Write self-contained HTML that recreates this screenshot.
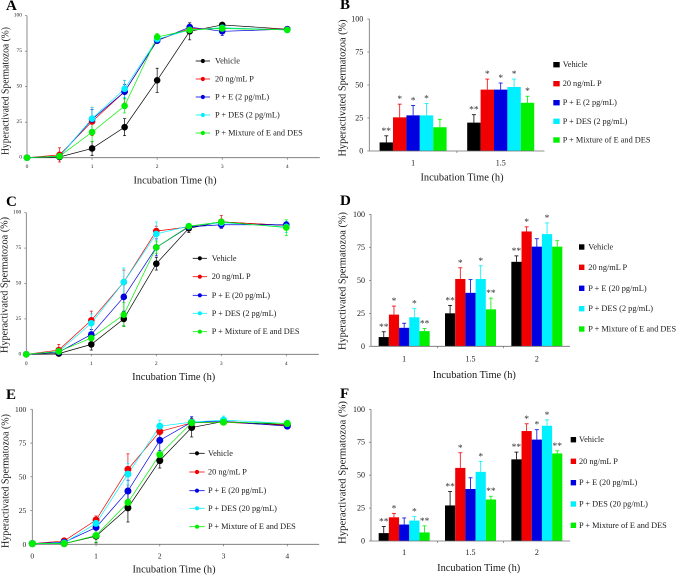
<!DOCTYPE html>
<html lang="en">
<head>
<meta charset="utf-8">
<title>Hyperactivated Spermatozoa Charts</title>
<style>
html,body{margin:0;padding:0;background:#fff;width:677px;height:576px;overflow:hidden}
svg{display:block;filter:blur(.3px)}
text{font-family:"Liberation Serif",serif;fill:#1a1a1a}
</style>
</head>
<body>
<svg id="fig" xmlns="http://www.w3.org/2000/svg" width="677" height="576" viewBox="0 0 677 576"></svg>
<script>
// ---------- shared data ----------
const times = [0, 0.5, 1, 1.5, 2, 2.5, 3, 4];
const xTickValues = [0, 1, 2, 3, 4];
const yTickValues = [0, 25, 50, 75, 100];
const seriesColors = ['#000000', '#f00000', '#0000e0', '#00f0ff', '#00f000'];
const seriesKeys = ['vehicle', 'p', 'p-e', 'p-des', 'p-mix'];

// ---------- legends ----------
const legendA = ['Vehicle', '20 ng/mL P', 'P + E (2 pg/mL)', 'P + DES (2 pg/mL)', 'P + Mixture of E and DES'];
const legendC = ['Vehicle', '20 ng/mL P', 'P + E (20 pg/mL)', 'P + DES (2 pg/mL)', 'P + Mixture of E and DES'];
const legendE = ['Vehicle', '20 ng/mL P', 'P + E (20 pg/mL)', 'P + DES (20 pg/mL)', 'P + Mixture of E and DES'];

// ---------- panel A line data ----------
const aVehicle = [0, 0.5, 6.5, 21.5, 54.5, 89, 93.5, 90.5];
const aP = [0, 2, 25.5, 46.5, 82.5, 91, 91, 90.5];
const aPE = [0, 1, 27, 46.5, 82.5, 92, 89, 90.5];
const aDES = [0, 1, 27.5, 48.5, 83.5, 90, 91.5, 90];
const aMix = [0, 1, 18, 36.5, 85, 90, 91, 90];
const aVehicleErr = [0, 1, 5, 6, 8.5, 6, 1.5, 1];
const aPErr = [0, 5, 10, 8, 2, 2, 3, 1.5];
const aPEErr = [0, 2, 7, 5, 2, 2, 3, 1.5];
const aDESErr = [0, 2, 8, 6, 2, 2, 2, 1.5];
const aMixErr = [0, 2, 6.5, 5, 2.5, 2, 2, 1.5];

// ---------- panel C line data ----------
const cVehicle = [0, 0.5, 7, 25, 64, 89, 93.5, 91];
const cP = [0, 3, 24, 51, 87, 90, 93.5, 91];
const cPE = [0, 1.5, 14, 40.5, 75.5, 90, 91.5, 91.5];
const cDES = [0, 2, 22, 51, 85, 90.5, 93, 90];
const cMix = [0, 2, 11.5, 28, 75.5, 90.5, 93.5, 89.5];
const cVehicleErr = [0, 1, 4, 5, 4.5, 3, 1, 1.5];
const cPErr = [0, 4, 6.5, 8.5, 3.5, 1, 4.5, 1];
const cPEErr = [0, 1.5, 3.5, 10, 6, 1, 2.5, 1.5];
const cDESErr = [0, 2, 6.5, 10, 8.5, 1, 2, 4];
const cMixErr = [0, 2, 2, 8.5, 4.5, 1, 2, 5.5];

// ---------- panel E line data ----------
const eVehicle = [0.5, 0.5, 6, 27, 62, 86.5, 91, 88.5];
const eP = [0.5, 2.5, 18, 55.5, 83.5, 90, 90.5, 88];
const ePE = [0.5, 1.5, 12.5, 39.5, 77, 90.5, 91, 87.5];
const eDES = [0.5, 1, 15.5, 52, 87.5, 90.5, 92, 89.5];
const eMix = [0.5, 0.5, 6.5, 31, 66.5, 90, 90.5, 89.5];
const eVehicleErr = [0, 1, 5, 10.5, 5.5, 7, 1, 1.5];
const ePErr = [0, 1, 3, 11.5, 5.5, 3, 2, 1.5];
const ePEErr = [0, 1, 5, 8, 7.5, 4, 1.5, 1.5];
const eDESErr = [0, 1, 3, 8, 4.5, 2, 3, 2.5];
const eMixErr = [0, 1, 5, 2.5, 2, 1.5, 1.5, 2];

// ---------- panel B bar data ----------
const bCategories = ['1', '1.5'];
const bValues1 = [6.5, 25.5, 27, 27, 18];
const bValues2 = [21.5, 46.5, 46.5, 48.5, 36.5];
const bErrors1 = [5, 10, 7.5, 9, 6];
const bErrors2 = [6, 8, 5, 6, 5];
const bStars1 = ['**', '*', '*', '*', ''];
const bStars2 = ['**', '*', '*', '*', '*'];

// ---------- panel D bar data ----------
const dCategories = ['1', '1.5', '2'];
const dValues1 = [7, 24, 14, 22, 11.5];
const dValues2 = [25, 51, 40.5, 51, 28];
const dValues3 = [64, 87, 75.5, 85, 75.5];
const dErrors1 = [4, 6.5, 3.5, 6.5, 2];
const dErrors2 = [6, 8.5, 10, 10, 8.5];
const dErrors3 = [4.5, 3.5, 6, 8.5, 4.5];
const dStars1 = ['**', '*', '', '*', '**'];
const dStars2 = ['**', '*', '', '*', '**'];
const dStars3 = ['**', '*', '', '*', ''];

// ---------- panel F bar data ----------
const fCategories = ['1', '1.5', '2'];
const fValues1 = [6, 18, 12.5, 15.5, 6.5];
const fValues2 = [27, 55.5, 39.5, 52.5, 31.5];
const fValues3 = [62, 83.5, 77, 87.5, 66.5];
const fErrors1 = [5, 3, 5, 3, 5];
const fErrors2 = [10.5, 11.5, 8.5, 8, 2.5];
const fErrors3 = [5.5, 5.5, 7.5, 4.5, 2];
const fStars1 = ['**', '*', '', '*', '**'];
const fStars2 = ['**', '*', '', '*', '**'];
const fStars3 = ['**', '*', '*', '*', '**'];

const svg = document.getElementById('fig');
const NS = 'http://www.w3.org/2000/svg';
const AXIS = '#6f6f6f';

function mk(tag, attrs, parent, name) {
  const el = document.createElementNS(NS, tag);
  for (const k in attrs) el.setAttribute(k, attrs[k]);
  
  
  (parent || svg).appendChild(el);
  return el;
}
function txt(s, x, y, size, anchor, parent, name, extra) {
  const a = Object.assign({x: x, y: y, 'font-size': size, 'text-anchor': anchor, 'dominant-baseline': 'central'}, extra || {});
  const el = mk('text', a, parent, name);
  el.textContent = s;
  return el;
}
function line(x1, y1, x2, y2, stroke, w, parent, name) {
  return mk('line', {x1: x1, y1: y1, x2: x2, y2: y2, stroke: stroke, 'stroke-width': w}, parent, name);
}

function frame(g, p, yOf, axisX, xEnd, y0) {
  line(axisX, p.y100, axisX, y0, AXIS, 0.8, g, 'y-axis');
  line(axisX, y0, xEnd, y0, AXIS, 0.8, g, 'x-axis');
  yTickValues.forEach(function (v) {
    line(axisX - 2, yOf(v), axisX, yOf(v), AXIS, 0.7, g, 'y-tick-' + v);
    txt(String(v), axisX - p.yLabelGap, yOf(v), p.tickSize, 'end', g, 'y-tick-label-' + v);
  });
  txt('Incubation Time (h)', p.xTitleX, p.xTitleY, 10.4, 'middle', g, 'x-axis-title');
  const t = txt('Hyperactivated Spermatozoa (%)', p.yTitleX, p.yTitleY, 10.4, 'middle', g, 'y-axis-title', {textLength: p.yTitleLen, lengthAdjust: 'spacingAndGlyphs'});
  t.setAttribute('transform', 'rotate(-90 ' + p.yTitleX + ' ' + p.yTitleY + ')');
  txt(p.letter, p.letterX, p.letterY, 15, 'start', g, 'panel-letter-' + p.letter, {'font-weight': 'bold', style: 'fill:#000'});
}

function drawLinePanel(p, values, errors, legend) {
  const g = mk('g', {}, svg, 'panel-' + p.letter);
  const xOf = function (t) { return p.x0 + (p.x4 - p.x0) * t / 4; };
  const yOf = function (v) { return p.y0 + (p.y100 - p.y0) * v / 100; };
  frame(g, p, yOf, p.x0, xOf(4.5), p.y0);
  xTickValues.forEach(function (v) {
    line(xOf(v), p.y0, xOf(v), p.y0 + 2, AXIS, 0.7, g, 'x-tick-' + v);
    txt(String(v), xOf(v), p.xLabelY, p.tickSize, 'middle', g, 'x-tick-label-' + v);
  });
  values.forEach(function (vals, s) {
    const c = seriesColors[s];
    const sg = mk('g', {}, g, 'series-' + seriesKeys[s]);
    mk('polyline', {
      points: vals.map(function (v, i) { return xOf(times[i]) + ',' + yOf(v); }).join(' '),
      fill: 'none', stroke: c, 'stroke-width': 0.7
    }, sg, 'line-' + seriesKeys[s]);
    vals.forEach(function (v, i) {
      const e = errors[s][i];
      if (e > 0) {
        const x = xOf(times[i]);
        line(x, yOf(v - e), x, yOf(v + e), c, 0.7, sg, 'error-bar');
        line(x - 1.5, yOf(v + e), x + 1.5, yOf(v + e), c, 0.7, sg, 'error-cap');
        line(x - 1.5, yOf(v - e), x + 1.5, yOf(v - e), c, 0.7, sg, 'error-cap');
      }
    });
  });
  values.forEach(function (vals, s) {
    vals.forEach(function (v, i) {
      mk('circle', {cx: xOf(times[i]), cy: yOf(v), r: p.r, fill: seriesColors[s]}, g, 'point-' + seriesKeys[s]);
    });
  });
  legend.forEach(function (label, s) {
    const y = p.legendY[s];
    const lg = mk('g', {}, g, 'legend-entry-' + seriesKeys[s]);
    line(p.legendX1, y, p.legendX2, y, seriesColors[s], 0.8, lg, 'legend-line');
    mk('circle', {cx: (p.legendX1 + p.legendX2) / 2, cy: y, r: 2.1, fill: seriesColors[s]}, lg, 'legend-marker');
    txt(label, p.legendTextX, y, 8.3, 'start', lg, 'legend-label');
  });
}

function drawBarPanel(p, categories, values, errors, stars, legend) {
  const g = mk('g', {}, svg, 'panel-' + p.letter);
  const band = (p.xEnd - p.axisX) / categories.length;
  const yOf = function (v) { return p.y0 + (p.y100 - p.y0) * v / 100; };
  const catX = function (i) { return p.axisX + band * (i + 0.5); };
  categories.forEach(function (cat, c) {
    txt(cat, catX(c), p.xLabelY, 8, 'middle', g, 'x-tick-label-' + cat);
    if (c > 0) line(p.axisX + band * c, p.y0, p.axisX + band * c, p.y0 + 2, AXIS, 0.7, g, 'x-tick');
    values[c].forEach(function (v, s) {
      const bx = catX(c) + (s - 2.5) * p.barW;
      const mid = bx + p.barW / 2;
      const col = seriesColors[s];
      const topE = yOf(v + errors[c][s]);
      line(mid, yOf(v), mid, topE, col, 0.8, g, 'error-bar-' + seriesKeys[s]);
      line(mid - 2, topE, mid + 2, topE, col, 0.8, g, 'error-cap-' + seriesKeys[s]);
      mk('rect', {x: bx, y: yOf(v), width: p.barW, height: p.y0 - yOf(v), fill: col}, g, 'bar-' + seriesKeys[s] + '-' + cat);
      if (stars[c][s]) {
        txt(stars[c][s], mid, topE - 4, 9.5, 'middle', g, 'significance-star', {style: 'fill:#333'});
      }
    });
  });
  frame(g, p, yOf, p.axisX, p.xEnd, p.y0);
  legend.forEach(function (label, s) {
    const y = p.legendY[s];
    const lg = mk('g', {}, g, 'legend-entry-' + seriesKeys[s]);
    mk('rect', {x: p.legendX, y: y - 2.7, width: p.swatch, height: 5.4, fill: seriesColors[s]}, lg, 'legend-swatch');
    txt(label, p.legendTextX, y, 8.3, 'start', lg, 'legend-label');
  });
}

drawLinePanel({
  letter: 'A', letterX: 6, letterY: 6, x0: 27, x4: 287.3, y0: 157.7, y100: 15.7,
  r: 3.3, tickSize: 5.5, yLabelGap: 5, xLabelY: 167, xTitleX: 175, xTitleY: 181, yTitleX: 6, yTitleY: 91, yTitleLen: 128,
  legendX1: 195.7, legendX2: 210, legendTextX: 215, legendY: [61, 79, 97, 115, 133]
}, [aVehicle, aP, aPE, aDES, aMix], [aVehicleErr, aPErr, aPEErr, aDESErr, aMixErr], legendA);

drawBarPanel({
  letter: 'B', letterX: 340, letterY: 5, axisX: 369.3, xEnd: 544.5, y0: 151, y100: 19, barW: 13.4,
  tickSize: 8, yLabelGap: 6, xLabelY: 163, xTitleX: 462, xTitleY: 178, yTitleX: 343, yTitleY: 88, yTitleLen: 137,
  legendX: 553.3, swatch: 6.4, legendTextX: 562.7, legendY: [64.7, 83.7, 102.7, 121.3, 140]
}, bCategories, [bValues1, bValues2], [bErrors1, bErrors2], [bStars1, bStars2], legendA);

drawLinePanel({
  letter: 'C', letterX: 6, letterY: 202, x0: 26.3, x4: 286.3, y0: 354.3, y100: 212.7,
  r: 3.3, tickSize: 5.5, yLabelGap: 5, xLabelY: 364, xTitleX: 173.7, xTitleY: 377.7, yTitleX: 5, yTitleY: 285, yTitleLen: 136,
  legendX1: 192.7, legendX2: 207, legendTextX: 211.7, legendY: [258.3, 276.7, 295.3, 313.3, 331.7]
}, [cVehicle, cP, cPE, cDES, cMix], [cVehicleErr, cPErr, cPEErr, cDESErr, cMixErr], legendC);

drawBarPanel({
  letter: 'D', letterX: 340, letterY: 201, axisX: 371, xEnd: 570, y0: 346.3, y100: 214.3, barW: 10.2,
  tickSize: 8, yLabelGap: 6, xLabelY: 359, xTitleX: 474.3, xTitleY: 375.3, yTitleX: 343, yTitleY: 281, yTitleLen: 138,
  legendX: 579, swatch: 5.4, legendTextX: 588.3, legendY: [247, 267.3, 288.3, 308.7, 329]
}, dCategories, [dValues1, dValues2, dValues3], [dErrors1, dErrors2, dErrors3], [dStars1, dStars2, dStars3], legendC);

drawLinePanel({
  letter: 'E', letterX: 6, letterY: 395, x0: 32.3, x4: 287.3, y0: 544.3, y100: 409.3,
  r: 3.5, tickSize: 7.5, yLabelGap: 6, xLabelY: 556, xTitleX: 174, xTitleY: 570, yTitleX: 6, yTitleY: 481, yTitleLen: 134,
  legendX1: 189.3, legendX2: 204.7, legendTextX: 208, legendY: [453.3, 472, 490.7, 508.3, 526.7]
}, [eVehicle, eP, ePE, eDES, eMix], [eVehicleErr, ePErr, ePEErr, eDESErr, eMixErr], legendE);

drawBarPanel({
  letter: 'F', letterX: 340, letterY: 394, axisX: 371, xEnd: 570, y0: 541, y100: 409.3, barW: 10.2,
  tickSize: 8, yLabelGap: 6, xLabelY: 552.7, xTitleX: 478.7, xTitleY: 568.3, yTitleX: 343, yTitleY: 472.5, yTitleLen: 143,
  legendX: 570.7, swatch: 5.4, legendTextX: 579, legendY: [439.7, 461.3, 482.7, 504, 525.3]
}, fCategories, [fValues1, fValues2, fValues3], [fErrors1, fErrors2, fErrors3], [fStars1, fStars2, fStars3], legendE);
</script>
</body>
</html>
